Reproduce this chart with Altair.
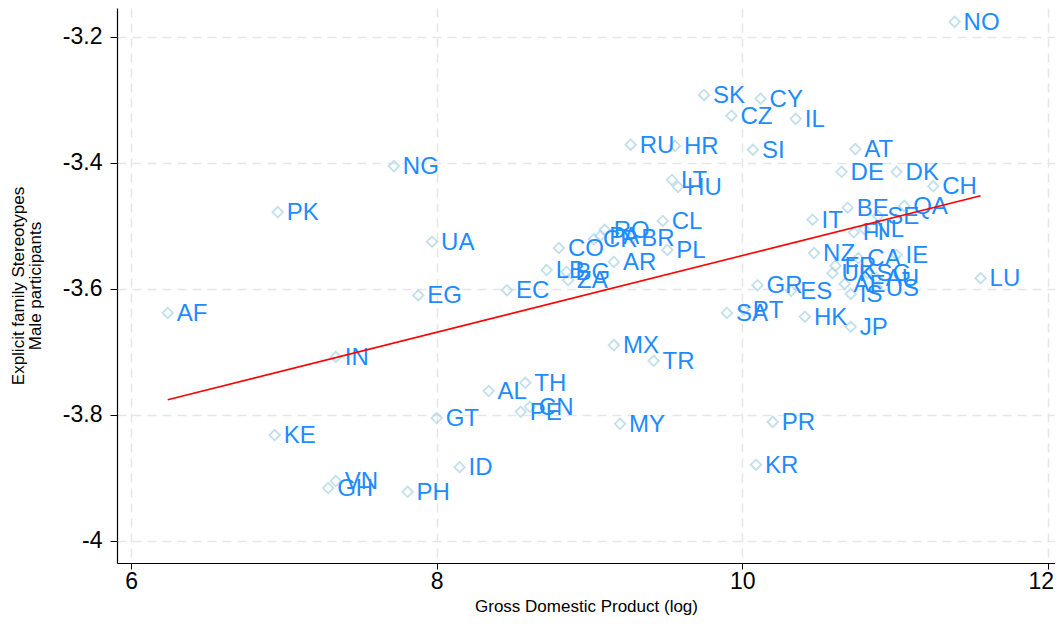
import altair as alt
import pandas as pd

countries = ["NO","SK","CY","CZ","IL","RU","HR","SI","AT","NG","DE","DK","LT","HU","CH","PK",
             "BE","SE","QA","IT","FI","NL","CL","RO","PA","CR","BR","UA","CO","PL","NZ","IE",
             "CA","AR","FR","LB","BG","UK","SG","AU","LU","ZA","GR","AE","US","EC","ES","IS",
             "EG","PT","SA","AF","HK","JP","MX","IN","TR","TH","AL","CN","PE","GT","PR","MY",
             "KE","KR","ID","VN","GH","PH"]
gdp_log = [11.39,9.75,10.12,9.93,10.35,9.27,9.56,10.07,10.74,7.72,10.65,11.01,9.54,9.58,11.25,6.96,
           10.69,10.89,11.06,10.46,10.73,10.80,9.48,9.10,9.07,9.03,9.28,7.97,8.80,9.51,10.47,11.01,
           10.76,9.16,10.61,8.72,8.85,10.59,10.82,10.88,11.56,8.86,10.10,10.67,10.88,8.46,10.32,10.71,
           7.88,10.01,9.90,6.24,10.41,10.71,9.16,7.34,9.42,8.58,8.34,8.61,8.55,8.00,10.20,9.20,
           6.94,10.09,8.15,7.34,7.29,7.81]
stereotype = [-3.176,-3.292,-3.298,-3.325,-3.330,-3.371,-3.373,-3.379,-3.378,-3.405,-3.414,-3.414,-3.427,-3.438,-3.437,-3.478,
              -3.471,-3.484,-3.468,-3.490,-3.510,-3.505,-3.492,-3.506,-3.516,-3.521,-3.519,-3.525,-3.535,-3.538,-3.543,-3.546,
              -3.551,-3.557,-3.563,-3.570,-3.573,-3.575,-3.575,-3.583,-3.583,-3.586,-3.594,-3.592,-3.598,-3.602,-3.603,-3.608,
              -3.610,-3.633,-3.638,-3.638,-3.644,-3.660,-3.689,-3.708,-3.714,-3.749,-3.762,-3.787,-3.795,-3.805,-3.811,-3.814,
              -3.832,-3.879,-3.883,-3.905,-3.916,-3.922]

fit_x = [6.24, 11.56]
fit_y = [-3.776, -3.452]

x_ticks = [6, 8, 10, 12]
y_ticks = [-3.2, -3.4, -3.6, -3.8, -4.0]

df = pd.DataFrame({"country": countries, "gdp": gdp_log, "st": stereotype})
fit = pd.DataFrame({"gdp": fit_x, "st": fit_y})

FONT = "Liberation Sans"

xs = alt.Scale(domain=[5.908, 12.047], nice=False, zero=False)
ys = alt.Scale(domain=[-4.035, -3.154], nice=False, zero=False)

xax = alt.Axis(values=x_ticks, format="d", grid=True, gridColor="#e6e6e6", gridDash=[9, 6],
               gridWidth=1.5, domainColor="black", domainWidth=1.2, tickColor="black",
               tickSize=6, labelFontSize=23, labelPadding=1, labelColor="black",
               labelOffset={"expr": "datum.value == 12 ? -7 : 0"},
               title="Gross Domestic Product (log)", titleFontSize=17, titleFontWeight="normal",
               titleY=48, titleBaseline="alphabetic", titleColor="black",
               labelFont=FONT, titleFont=FONT)
yax = alt.Axis(values=y_ticks,
               labelExpr="datum.value == -4 ? '-4' : '-' + format(-datum.value, '.1f')",
               grid=True, gridColor="#e6e6e6", gridDash=[9, 6], gridWidth=1.5,
               domainColor="black", domainWidth=1.2, tickColor="black", tickSize=7,
               labelFontSize=23, labelPadding=8, labelColor="black",
               title=["Explicit family Stereotypes", "Male participants"], titleFontSize=17,
               titleLineHeight=17,
               titleFontWeight="normal", titlePadding=18, titleColor="black",
               labelFont=FONT, titleFont=FONT)

pts = alt.Chart(df).mark_point(shape="diamond", filled=False, size=110, strokeWidth=1.8,
                               color="#a9d3e3").encode(
    x=alt.X("gdp:Q", scale=xs, axis=xax),
    y=alt.Y("st:Q", scale=ys, axis=yax),
)

labels = alt.Chart(df).mark_text(align="left", baseline="middle", dx=9, dy=1, fontSize=24,
                                 font=FONT, color="#1e8cff").encode(
    x=alt.X("gdp:Q", scale=xs),
    y=alt.Y("st:Q", scale=ys),
    text="country:N",
)

line = alt.Chart(fit).mark_line(color="#ff0000", strokeWidth=1.6).encode(
    x=alt.X("gdp:Q", scale=xs),
    y=alt.Y("st:Q", scale=ys),
)

chart = alt.layer(pts, labels, line).properties(
    width=938, height=555,
    autosize=alt.AutoSizeParams(type="none"),
    padding={"left": 109, "top": 0, "right": 0, "bottom": 53},
    background="white",
).configure_view(stroke=None)

chart.save("out.html", embed_options={"renderer": "svg", "actions": False})
